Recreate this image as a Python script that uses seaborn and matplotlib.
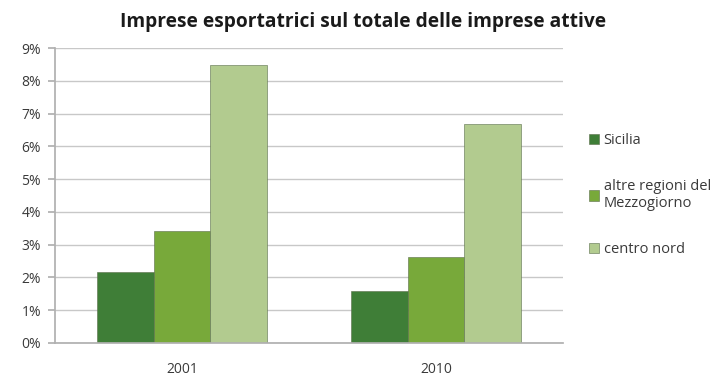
import matplotlib
matplotlib.use("Agg")
import matplotlib.pyplot as plt
import seaborn as sns
import pandas as pd
from matplotlib.ticker import FuncFormatter, FixedLocator

years = ["2001", "2010"]
series = ["Sicilia", "altre regioni del\nMezzogiorno", "centro nord"]
sicilia = [2.16, 1.58]
altre = [3.42, 2.62]
centro_nord = [8.47, 6.68]
yticks = [0, 1, 2, 3, 4, 5, 6, 7, 8, 9]
title = "Imprese esportatrici sul totale delle imprese attive"
colors = ["#3f7e37", "#78a93a", "#b2cb8f"]

rows = []
for vals, name in zip([sicilia, altre, centro_nord], series):
    for y, v in zip(years, vals):
        rows.append({"anno": y, "serie": name, "valore": v})
df = pd.DataFrame(rows)

sns.set_theme(style="white")
plt.rcParams['font.family'] = ['Open Sans', 'DejaVu Sans']

fig = plt.figure(figsize=(7.2, 3.77), dpi=100)
ax = fig.add_axes([55/720, 1-343/377, (563-55)/720, (343-48)/377])

sns.barplot(data=df, x="anno", y="valore", hue="serie", palette=colors,
            width=0.67, ax=ax, edgecolor="#5a6e4a", linewidth=0.4,
            saturation=1, legend=True)

ax.set_ylim(0, 9)
ax.set_xlim(-0.5, 1.5)
ax.yaxis.set_major_locator(FixedLocator(yticks))
ax.yaxis.set_major_formatter(FuncFormatter(lambda v, p: f"{int(v)}%"))
ax.grid(axis="y", color="#c8c8c8", linewidth=1)
ax.set_axisbelow(True)
for s in ["top", "right"]:
    ax.spines[s].set_visible(False)
ax.spines["left"].set_color("#b0b0b0")
ax.spines["bottom"].set_color("#b0b0b0")
ax.tick_params(axis="y", left=True, length=5, color="#b0b0b0", labelsize=10,
               labelcolor="#3a3a3a", pad=5)
ax.tick_params(axis="x", bottom=False, labelsize=10, labelcolor="#3a3a3a", pad=8)
ax.set_xlabel("")
ax.set_ylabel("")

handles, labels = ax.get_legend_handles_labels()
ax.get_legend().remove()
fig.legend(handles, labels, loc="center left", bbox_to_anchor=(576/720, 1-195/377),
           frameon=False, fontsize=10.5, handlelength=0.7, handleheight=0.7,
           handletextpad=0.3, labelspacing=2.1, labelcolor="#3a3a3a")

fig.text(363/720, 1-22/377, title, ha="center", va="center",
         fontsize=13.8, fontweight="bold", color="#1a1a1a")

fig.savefig("out.png", dpi=100)
